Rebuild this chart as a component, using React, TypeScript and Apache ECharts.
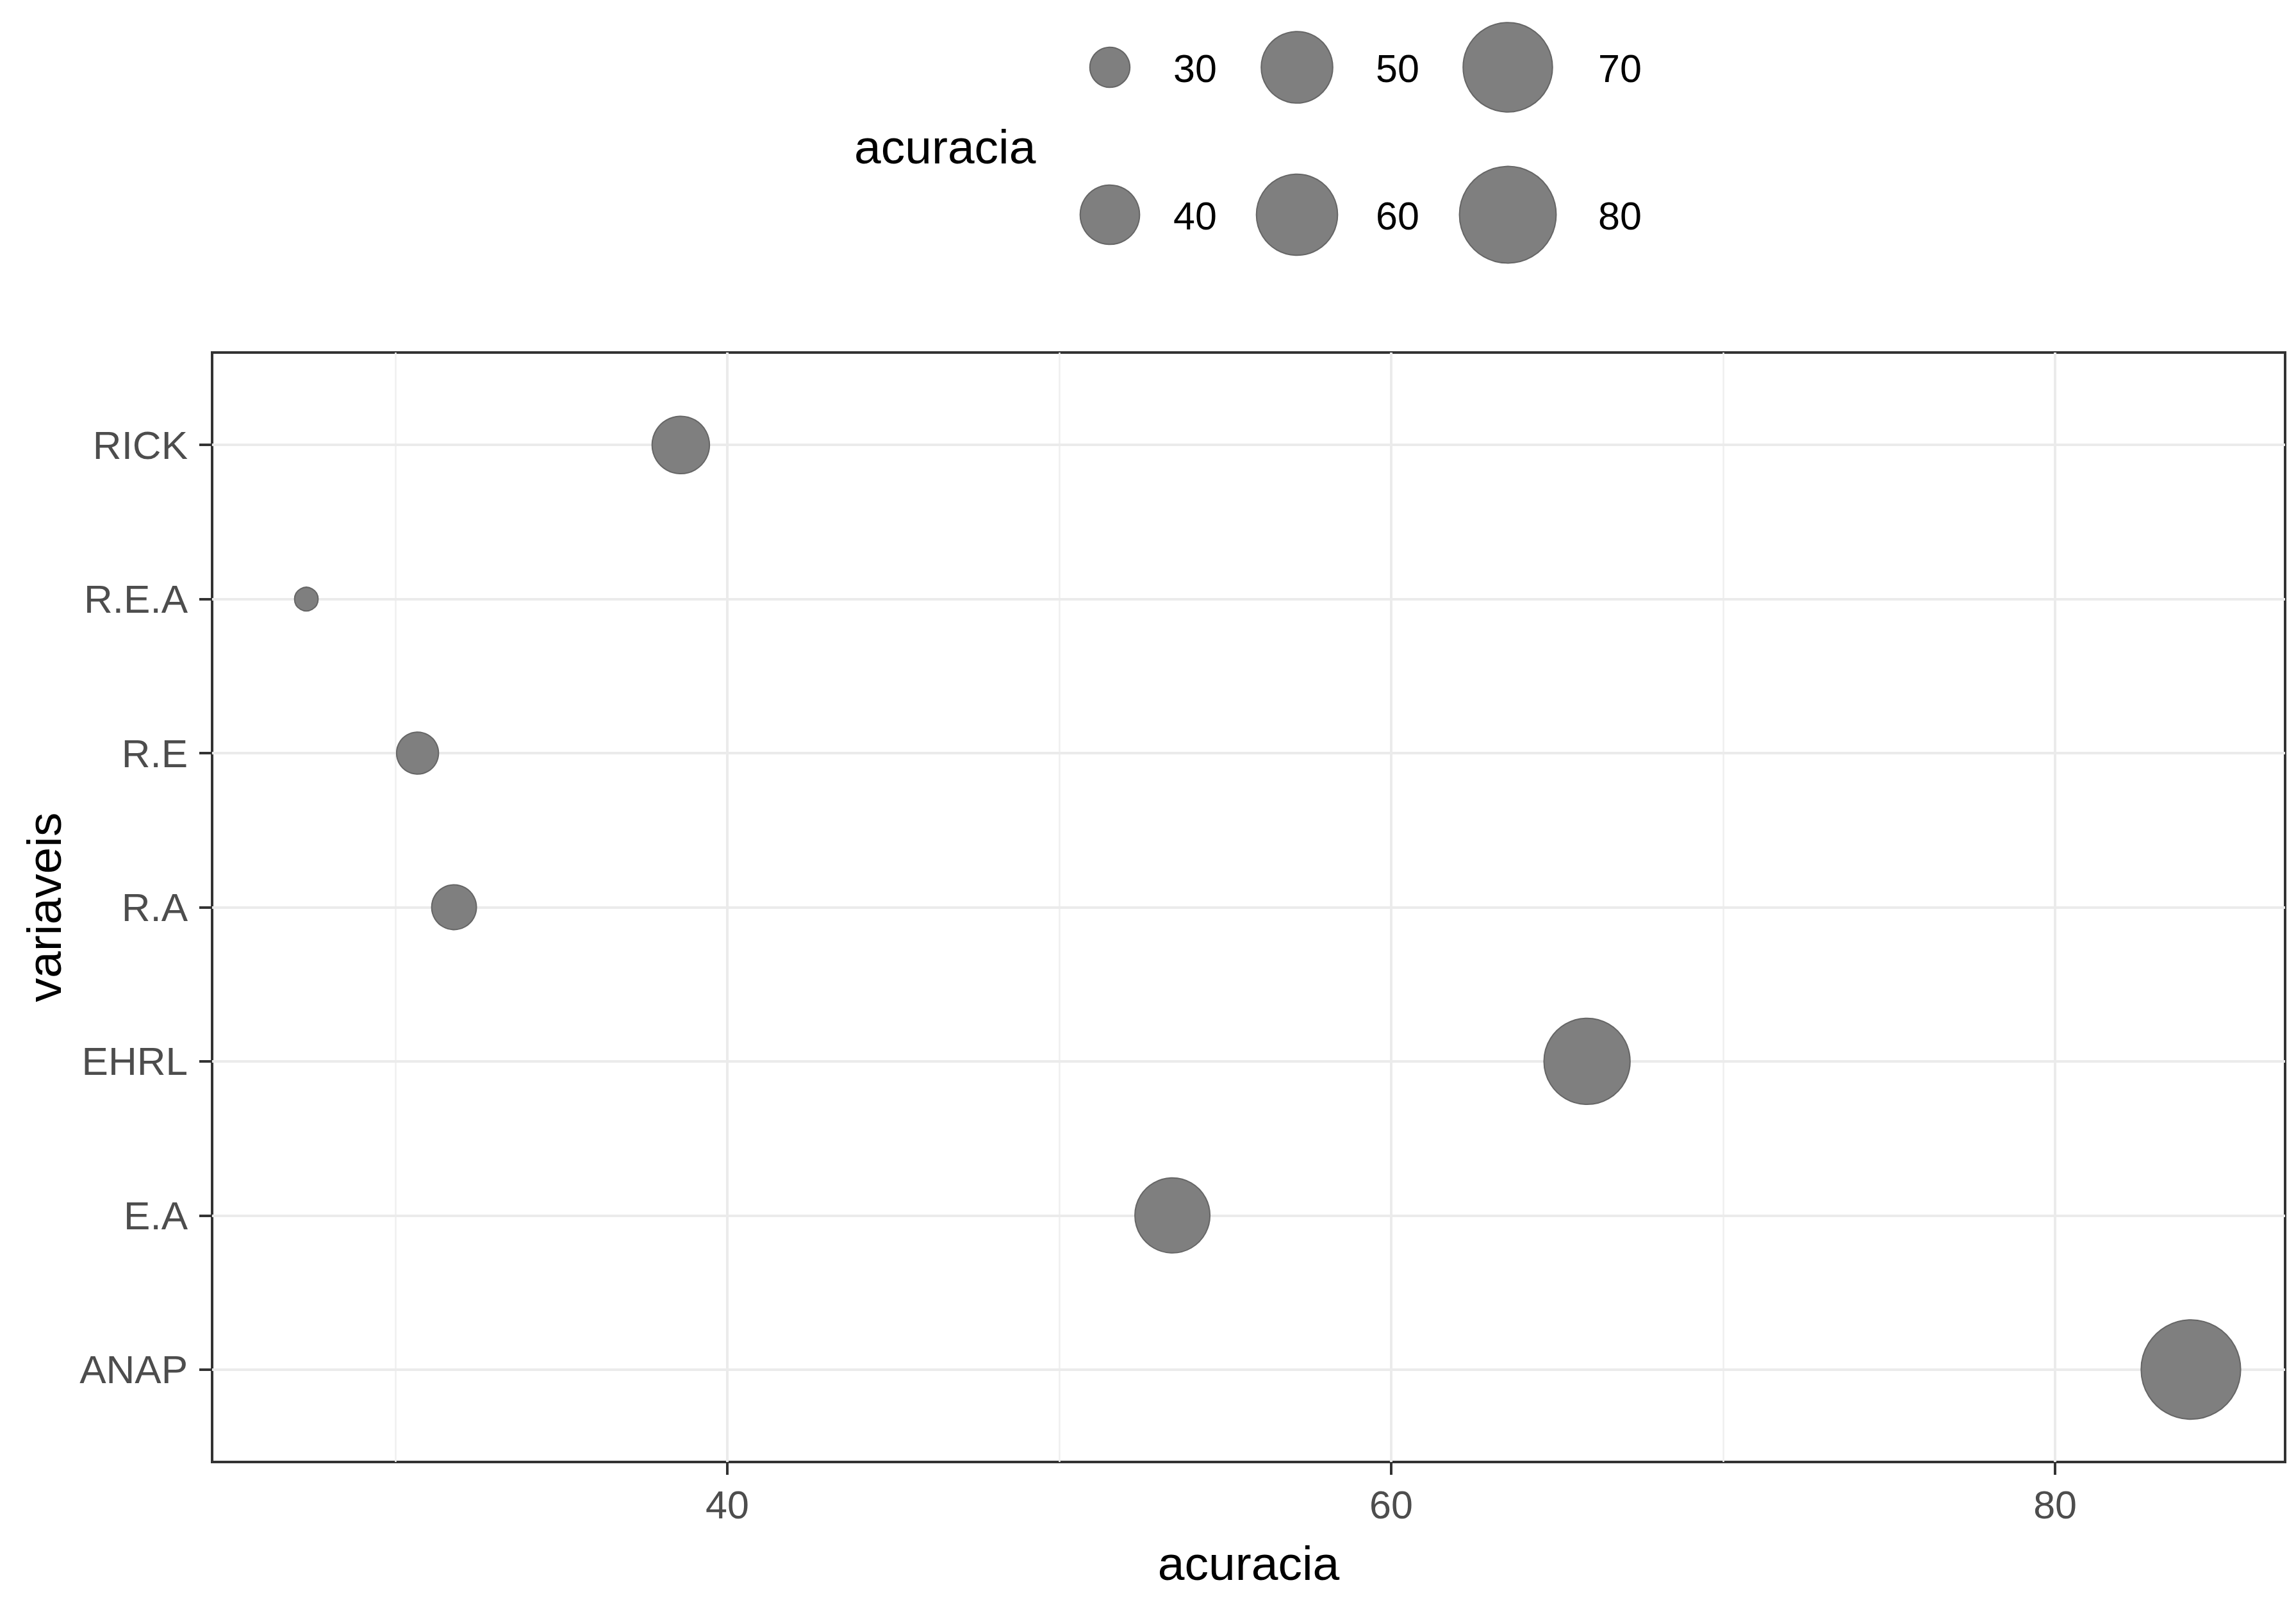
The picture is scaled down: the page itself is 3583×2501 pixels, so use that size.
import React, { useEffect, useRef } from "react";
import * as echarts from "echarts";

const categories = ["ANAP", "E.A", "EHRL", "R.A", "R.E", "R.E.A", "RICK"];
const acuracia = [84.09, 53.41, 65.9, 31.77, 30.67, 27.32, 38.6];
const xTicks = [40, 60, 80];
const xMinorGrid = [30, 50, 70];
const legendBreaks = [30, 40, 50, 60, 70, 80];

const FONT = "'Liberation Sans', Arial, sans-serif";

export default function App() {
  const ref = useRef<HTMLDivElement>(null);

  useEffect(() => {
    if (!ref.current) return;
    const chart = echarts.init(ref.current, undefined, { renderer: "svg" });

    const dMin = Math.min(...acuracia);
    const dMax = Math.max(...acuracia);
    const span = dMax - dMin;
    const xMin = dMin - 0.05 * span;
    const xMax = dMax + 0.05 * span;
    const sizeOf = (v: number) => {
      const t = Math.max(0, Math.min(1, (v - dMin) / span));
      const s = 1 + 5 * Math.sqrt(t);
      return 23.7 * s + 13;
    };

    const catIdx = categories.map((_, i) => i);
    const data = acuracia.map((v, i) => [v, i]);

    // legend layout (nrow = 2, filled by column)
    const colX = [1732, 2024, 2353];
    const labelX = [1831, 2147, 2494];
    const rowY = [105, 335];
    const legendEls: any[] = [];
    legendBreaks.forEach((b, k) => {
      const col = Math.floor(k / 2);
      const row = k % 2;
      legendEls.push({
        type: "circle",
        shape: { cx: colX[col], cy: rowY[row], r: sizeOf(b) / 2 },
        style: { fill: "#7f7f7f", stroke: "#666666", lineWidth: 2 },
      });
      legendEls.push({
        type: "text",
        x: labelX[col],
        y: rowY[row] + 2,
        style: {
          text: String(b),
          font: `61px ${FONT}`,
          fill: "#000000",
          textAlign: "left",
          textVerticalAlign: "middle",
        },
      });
    });
    legendEls.push({
      type: "text",
      x: 1333,
      y: 229,
      style: {
        text: "acuracia",
        font: `75px ${FONT}`,
        fill: "#000000",
        textAlign: "left",
        textVerticalAlign: "middle",
      },
    });

    const majorLine = { color: "#EBEBEB", width: 4, type: "solid" };
    const minorLine = { color: "#EFEFEF", width: 2.5, type: "solid" };

    chart.setOption({
      animation: false,
      backgroundColor: "#ffffff",
      textStyle: { fontFamily: FONT },
      grid: {
        left: 331,
        top: 550,
        width: 3235,
        height: 1731,
        show: true,
        borderColor: "#333333",
        borderWidth: 4,
        backgroundColor: "transparent",
      },
      xAxis: {
        type: "value",
        min: xMin,
        max: xMax,
        name: "acuracia",
        nameLocation: "middle",
        nameGap: 120,
        nameTextStyle: { fontSize: 75, color: "#000000", fontFamily: FONT },
        axisLine: { show: false, onZero: false },
        splitLine: { show: false },
        axisTick: {
          show: true,
          customValues: xTicks,
          length: 20,
          lineStyle: { color: "#333333", width: 4 },
        },
        axisLabel: {
          customValues: xTicks,
          fontSize: 61,
          color: "#4D4D4D",
          margin: 36,
          fontFamily: FONT,
        },
      },
      yAxis: {
        type: "value",
        min: -0.6,
        max: categories.length - 1 + 0.6,
        name: "variaveis",
        nameLocation: "middle",
        nameRotate: 90,
        nameGap: 225,
        nameTextStyle: { fontSize: 75, color: "#000000", fontFamily: FONT },
        axisLine: { show: false, onZero: false },
        splitLine: { show: false },
        axisTick: {
          show: true,
          customValues: catIdx,
          length: 20,
          lineStyle: { color: "#333333", width: 4 },
        },
        axisLabel: {
          customValues: catIdx,
          formatter: (v: number) => categories[Math.round(v)] ?? "",
          fontSize: 62,
          color: "#4D4D4D",
          margin: 38,
          fontFamily: FONT,
        },
      },
      series: [
        {
          type: "scatter",
          name: "grid",
          z: 1,
          data: [],
          silent: true,
          markLine: {
            silent: true,
            z: 1,
            symbol: "none",
            label: { show: false },
            animation: false,
            data: [
              ...xMinorGrid.map((v) => ({ xAxis: v, lineStyle: minorLine })),
              ...xTicks.map((v) => ({ xAxis: v, lineStyle: majorLine })),
              ...catIdx.map((v) => ({ yAxis: v, lineStyle: majorLine })),
            ],
          },
        },
        {
          type: "scatter",
          name: "acuracia",
          z: 10,
          data,
          symbol: "circle",
          symbolSize: (val: number[]) => sizeOf(val[0]),
          itemStyle: { color: "#7f7f7f", borderColor: "#666666", borderWidth: 2, opacity: 1 },
        },
      ],
      graphic: legendEls,
    });

    return () => chart.dispose();
  }, []);

  return (
    <div
      ref={ref}
      style={{ position: "fixed", left: 0, top: 0, width: 3583, height: 2501, background: "#fff" }}
    />
  );
}
